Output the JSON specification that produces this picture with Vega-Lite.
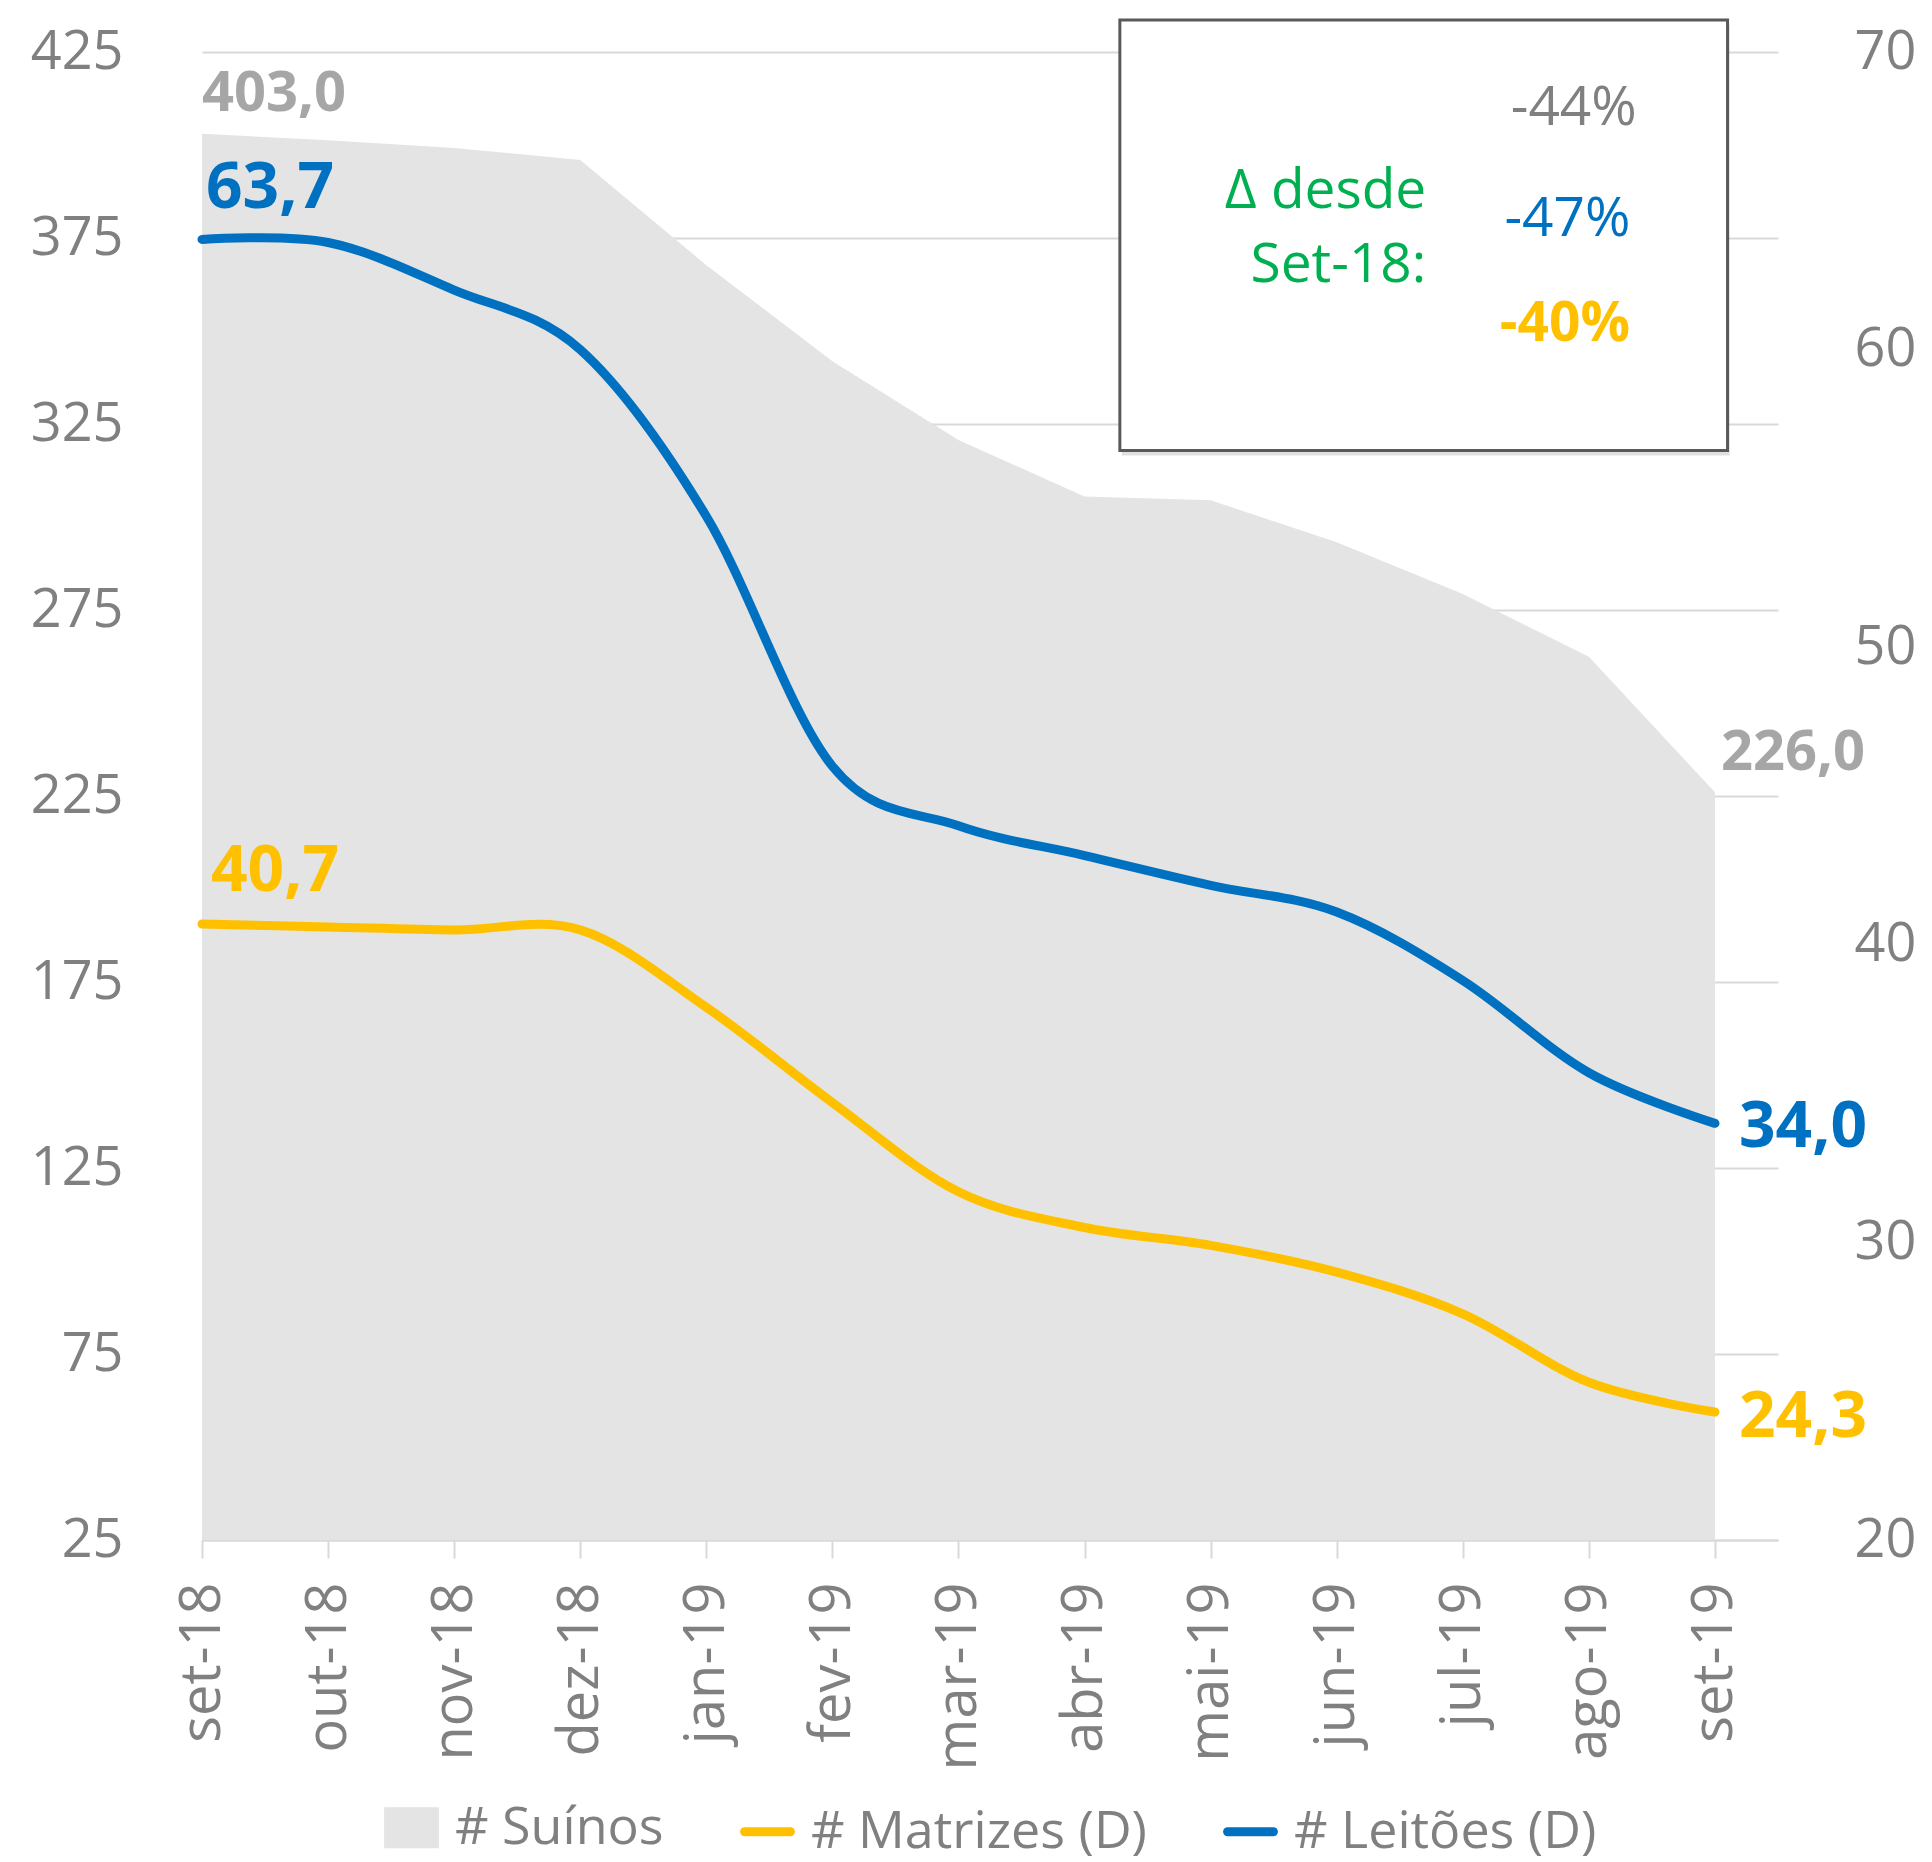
{
  "$schema": "https://vega.github.io/schema/vega-lite/v6.json",
  "width": 1576,
  "height": 1488,
  "autosize": {"type": "none"},
  "padding": {"left": 202, "top": 52, "right": 154, "bottom": 322},
  "background": "white",
  "config": {
    "font": "Open Sans",
    "view": {"stroke": null},
    "locale": {"number": {"decimal": ",", "thousands": ".", "grouping": [3], "currency": ["R$", ""]}},
    "legend": {"layout": {"bottom": {"anchor": "middle"}}}
  },
  "datasets": {
    "serie": [
      {"i": 0, "mes": "set-18", "serie": "# Suínos", "valor": 403.0},
      {"i": 1, "mes": "out-18", "serie": "# Suínos", "valor": 401.3},
      {"i": 2, "mes": "nov-18", "serie": "# Suínos", "valor": 399.2},
      {"i": 3, "mes": "dez-18", "serie": "# Suínos", "valor": 396.0},
      {"i": 4, "mes": "jan-19", "serie": "# Suínos", "valor": 367.7},
      {"i": 5, "mes": "fev-19", "serie": "# Suínos", "valor": 341.9},
      {"i": 6, "mes": "mar-19", "serie": "# Suínos", "valor": 320.7},
      {"i": 7, "mes": "abr-19", "serie": "# Suínos", "valor": 305.5},
      {"i": 8, "mes": "mai-19", "serie": "# Suínos", "valor": 304.5},
      {"i": 9, "mes": "jun-19", "serie": "# Suínos", "valor": 293.2},
      {"i": 10, "mes": "jul-19", "serie": "# Suínos", "valor": 279.3},
      {"i": 11, "mes": "ago-19", "serie": "# Suínos", "valor": 262.4},
      {"i": 12, "mes": "set-19", "serie": "# Suínos", "valor": 226.0},
      {"i": 0, "mes": "set-18", "serie": "# Matrizes (D)", "valor": 40.7},
      {"i": 1, "mes": "out-18", "serie": "# Matrizes (D)", "valor": 40.6},
      {"i": 2, "mes": "nov-18", "serie": "# Matrizes (D)", "valor": 40.5},
      {"i": 3, "mes": "dez-18", "serie": "# Matrizes (D)", "valor": 40.5},
      {"i": 4, "mes": "jan-19", "serie": "# Matrizes (D)", "valor": 37.9},
      {"i": 5, "mes": "fev-19", "serie": "# Matrizes (D)", "valor": 34.7},
      {"i": 6, "mes": "mar-19", "serie": "# Matrizes (D)", "valor": 31.7},
      {"i": 7, "mes": "abr-19", "serie": "# Matrizes (D)", "valor": 30.5},
      {"i": 8, "mes": "mai-19", "serie": "# Matrizes (D)", "valor": 29.9},
      {"i": 9, "mes": "jun-19", "serie": "# Matrizes (D)", "valor": 29.0},
      {"i": 10, "mes": "jul-19", "serie": "# Matrizes (D)", "valor": 27.6},
      {"i": 11, "mes": "ago-19", "serie": "# Matrizes (D)", "valor": 25.3},
      {"i": 12, "mes": "set-19", "serie": "# Matrizes (D)", "valor": 24.3},
      {"i": 0, "mes": "set-18", "serie": "# Leitões (D)", "valor": 63.7},
      {"i": 1, "mes": "out-18", "serie": "# Leitões (D)", "valor": 63.6},
      {"i": 2, "mes": "nov-18", "serie": "# Leitões (D)", "valor": 62.0},
      {"i": 3, "mes": "dez-18", "serie": "# Leitões (D)", "valor": 60.0},
      {"i": 4, "mes": "jan-19", "serie": "# Leitões (D)", "valor": 54.4},
      {"i": 5, "mes": "fev-19", "serie": "# Leitões (D)", "valor": 46.0},
      {"i": 6, "mes": "mar-19", "serie": "# Leitões (D)", "valor": 44.0},
      {"i": 7, "mes": "abr-19", "serie": "# Leitões (D)", "valor": 43.0},
      {"i": 8, "mes": "mai-19", "serie": "# Leitões (D)", "valor": 42.0},
      {"i": 9, "mes": "jun-19", "serie": "# Leitões (D)", "valor": 41.1},
      {"i": 10, "mes": "jul-19", "serie": "# Leitões (D)", "valor": 38.8},
      {"i": 11, "mes": "ago-19", "serie": "# Leitões (D)", "valor": 35.7},
      {"i": 12, "mes": "set-19", "serie": "# Leitões (D)", "valor": 34.0}
    ],
    "caixa": [{"i": 7.28, "i2": 12.10, "valor": 317.9, "valor2": 433.6}],
    "notas": [
      {"texto": "-44%", "i": 10.88, "valor": 410.0, "grupo": "suinos"},
      {"texto": "-47%", "i": 10.83, "valor": 380.2, "grupo": "leitoes"},
      {"texto": "-40%", "i": 10.81, "valor": 352.0, "grupo": "matrizes"},
      {"texto": "Δ desde", "i": 9.71, "valor": 387.7, "grupo": "rotulo"},
      {"texto": "Set-18:", "i": 9.71, "valor": 367.8, "grupo": "rotulo"}
    ]
  },
  "resolve": {"scale": {"y": "independent"}},
  "layer": [
    {
      "layer": [
        {
          "data": {"name": "serie"},
          "transform": [{"filter": "datum.serie === '# Suínos'"}],
          "mark": {"type": "area", "interpolate": "linear"},
          "encoding": {
            "x": {"field": "i", "type": "quantitative",
              "scale": {"domain": [0, 12.5], "nice": false, "zero": false},
              "axis": {"title": null, "values": [0,1,2,3,4,5,6,7,8,9,10,11,12],
                "labelExpr": "['set-18','out-18','nov-18','dez-18','jan-19','fev-19','mar-19','abr-19','mai-19','jun-19','jul-19','ago-19','set-19'][datum.value]",
                "labelAngle": -90, "labelFontSize": 56, "labelColor": "#808080", "labelPadding": 24, "labelLimit": 0,
                "grid": false, "domain": true, "domainColor": "#d9d9d9", "domainWidth": 2,
                "ticks": true, "tickColor": "#d9d9d9", "tickWidth": 2, "tickSize": 18, "labelFlush": false, "labelOverlap": false}},
            "y": {"field": "valor", "type": "quantitative",
              "scale": {"domain": [25, 425], "nice": false, "zero": false},
              "axis": {"title": null, "orient": "left", "values": [25,75,125,175,225,275,325,375,425],
                "grid": true, "gridColor": "#d9d9d9", "gridWidth": 2, "domain": false, "ticks": false,
                "labelFontSize": 54, "labelColor": "#808080", "labelPadding": 79}},
            "y2": {"datum": 25},
            "color": {"field": "serie", "type": "nominal",
              "scale": {"domain": ["# Suínos", "# Matrizes (D)", "# Leitões (D)"], "range": ["#e4e4e4", "#ffc000", "#0070c0"]},
              "legend": {"title": null, "orient": "bottom", "direction": "horizontal", "offset": 30,
                "labelFontSize": 52, "labelColor": "#808080", "labelOffset": 16, "columnPadding": 62, "labelLimit": 0,
                "symbolSize": 2100, "symbolStrokeWidth": 9,
                "encode": {"symbols": {"update": {
                  "shape": {"signal": "datum.value === '# Suínos' ? 'M-1,-0.7H1V0.7H-1Z' : 'stroke'"},
                  "fill": {"signal": "datum.value === '# Suínos' ? '#e4e4e4' : 'transparent'"},
                  "stroke": {"signal": "datum.value === '# Suínos' ? 'transparent' : (datum.value === '# Matrizes (D)' ? '#ffc000' : '#0070c0')"},
                  "strokeWidth": {"value": 9},
                  "strokeCap": {"value": "round"},
                  "opacity": {"value": 1}
                }}}}}
          }
        },
        {
          "data": {"name": "serie"},
          "transform": [{"filter": "datum.serie === '# Suínos' && datum.i === 0"}],
          "mark": {"type": "text", "align": "left", "baseline": "middle", "dx": 0, "dy": -40, "fontSize": 56, "fontWeight": "bold", "color": "#a6a6a6"},
          "encoding": {
            "x": {"field": "i", "type": "quantitative", "title": null},
            "y": {"field": "valor", "type": "quantitative", "title": null},
            "text": {"field": "valor", "type": "quantitative", "format": ".1f"}
          }
        },
        {
          "data": {"name": "serie"},
          "transform": [{"filter": "datum.serie === '# Suínos' && datum.i === 12"}],
          "mark": {"type": "text", "align": "left", "baseline": "middle", "dx": 6, "dy": -39, "fontSize": 56, "fontWeight": "bold", "color": "#a6a6a6"},
          "encoding": {
            "x": {"field": "i", "type": "quantitative", "title": null},
            "y": {"field": "valor", "type": "quantitative", "title": null},
            "text": {"field": "valor", "type": "quantitative", "format": ".1f"}
          }
        },
        {
          "data": {"name": "caixa"},
          "mark": {"type": "rect", "fill": "#000000", "opacity": 0.12, "xOffset": 2, "yOffset": 5, "x2Offset": 2, "y2Offset": 5},
          "encoding": {
            "x": {"field": "i", "type": "quantitative", "title": null},
            "x2": {"field": "i2"},
            "y": {"field": "valor", "type": "quantitative", "title": null},
            "y2": {"field": "valor2"}
          }
        },
        {
          "data": {"name": "caixa"},
          "mark": {"type": "rect", "fill": "#ffffff", "stroke": "#595959", "strokeWidth": 3},
          "encoding": {
            "x": {"field": "i", "type": "quantitative", "title": null},
            "x2": {"field": "i2"},
            "y": {"field": "valor", "type": "quantitative", "title": null},
            "y2": {"field": "valor2"}
          }
        },
        {
          "data": {"name": "notas"},
          "transform": [{"filter": "datum.grupo === 'rotulo'"}],
          "mark": {"type": "text", "align": "right", "baseline": "middle", "fontSize": 55, "color": "#00b050"},
          "encoding": {
            "x": {"field": "i", "type": "quantitative", "title": null},
            "y": {"field": "valor", "type": "quantitative", "title": null},
            "text": {"field": "texto"}
          }
        },
        {
          "data": {"name": "notas"},
          "transform": [{"filter": "datum.grupo === 'suinos'"}],
          "mark": {"type": "text", "align": "center", "baseline": "middle", "fontSize": 55, "color": "#808080"},
          "encoding": {
            "x": {"field": "i", "type": "quantitative", "title": null},
            "y": {"field": "valor", "type": "quantitative", "title": null},
            "text": {"field": "texto"}
          }
        },
        {
          "data": {"name": "notas"},
          "transform": [{"filter": "datum.grupo === 'leitoes'"}],
          "mark": {"type": "text", "align": "center", "baseline": "middle", "fontSize": 55, "color": "#0070c0"},
          "encoding": {
            "x": {"field": "i", "type": "quantitative", "title": null},
            "y": {"field": "valor", "type": "quantitative", "title": null},
            "text": {"field": "texto"}
          }
        },
        {
          "data": {"name": "notas"},
          "transform": [{"filter": "datum.grupo === 'matrizes'"}],
          "mark": {"type": "text", "align": "center", "baseline": "middle", "fontSize": 55, "fontWeight": "bold", "color": "#ffc000"},
          "encoding": {
            "x": {"field": "i", "type": "quantitative", "title": null},
            "y": {"field": "valor", "type": "quantitative", "title": null},
            "text": {"field": "texto"}
          }
        }
      ]
    },
    {
      "layer": [
        {
          "data": {"name": "serie"},
          "transform": [{"filter": "datum.serie !== '# Suínos'"}],
          "mark": {"type": "line", "interpolate": "cardinal", "strokeWidth": 9, "strokeCap": "round", "strokeJoin": "round"},
          "encoding": {
            "x": {"field": "i", "type": "quantitative", "title": null},
            "y": {"field": "valor", "type": "quantitative",
              "scale": {"domain": [20, 70], "nice": false, "zero": false},
              "axis": {"title": null, "orient": "right", "values": [20,30,40,50,60,70],
                "grid": false, "domain": false, "ticks": false,
                "labelFontSize": 54, "labelColor": "#808080", "labelPadding": 76}},
            "color": {"field": "serie", "type": "nominal"},
            "detail": {"field": "serie"}
          }
        },
        {
          "data": {"name": "serie"},
          "transform": [{"filter": "datum.serie === '# Leitões (D)' && datum.i === 0"}],
          "mark": {"type": "text", "align": "left", "baseline": "middle", "dx": 4, "dy": -50, "fontSize": 64, "fontWeight": "bold", "color": "#0070c0"},
          "encoding": {
            "x": {"field": "i", "type": "quantitative", "title": null},
            "y": {"field": "valor", "type": "quantitative", "title": null},
            "text": {"field": "valor", "type": "quantitative", "format": ".1f"}
          }
        },
        {
          "data": {"name": "serie"},
          "transform": [{"filter": "datum.serie === '# Leitões (D)' && datum.i === 12"}],
          "mark": {"type": "text", "align": "left", "baseline": "middle", "dx": 24, "dy": 5, "fontSize": 64, "fontWeight": "bold", "color": "#0070c0"},
          "encoding": {
            "x": {"field": "i", "type": "quantitative", "title": null},
            "y": {"field": "valor", "type": "quantitative", "title": null},
            "text": {"field": "valor", "type": "quantitative", "format": ".1f"}
          }
        },
        {
          "data": {"name": "serie"},
          "transform": [{"filter": "datum.serie === '# Matrizes (D)' && datum.i === 0"}],
          "mark": {"type": "text", "align": "left", "baseline": "middle", "dx": 9, "dy": -52, "fontSize": 64, "fontWeight": "bold", "color": "#ffc000"},
          "encoding": {
            "x": {"field": "i", "type": "quantitative", "title": null},
            "y": {"field": "valor", "type": "quantitative", "title": null},
            "text": {"field": "valor", "type": "quantitative", "format": ".1f"}
          }
        },
        {
          "data": {"name": "serie"},
          "transform": [{"filter": "datum.serie === '# Matrizes (D)' && datum.i === 12"}],
          "mark": {"type": "text", "align": "left", "baseline": "middle", "dx": 24, "dy": 6, "fontSize": 64, "fontWeight": "bold", "color": "#ffc000"},
          "encoding": {
            "x": {"field": "i", "type": "quantitative", "title": null},
            "y": {"field": "valor", "type": "quantitative", "title": null},
            "text": {"field": "valor", "type": "quantitative", "format": ".1f"}
          }
        }
      ]
    }
  ]
}
